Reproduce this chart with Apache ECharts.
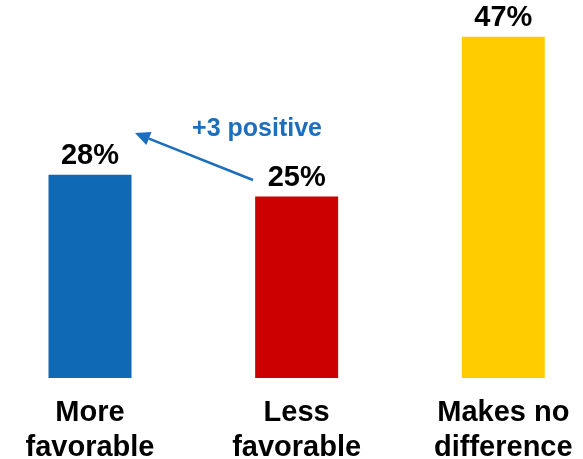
<!DOCTYPE html>
<html>
<head>
<meta charset="utf-8">
<script src="https://cdn.jsdelivr.net/npm/echarts@6/dist/echarts.min.js"></script>
<style>
  html, body { margin: 0; padding: 0; background: #fff; }
  #chart { width: 583px; height: 459px; }
</style>
</head>
<body>
<div id="chart"></div>
<script>
// chart data
const categories = ['More\nfavorable', 'Less\nfavorable', 'Makes no\ndifference'];
const shares = [28, 25, 47];
const barColors = ['#0f69b4', '#cc0000', '#ffcc00'];
const noteText = '+3 positive';

const FONT = 'Liberation Sans, Arial, sans-serif';

const myChart = echarts.init(document.getElementById('chart'));

// arrow from the 25% label to the 28% label
function arrowGraphic(x1, y1, x2, y2, color) {
  const ang = Math.atan2(y2 - y1, x2 - x1);
  const len = 15, half = 7;
  const bx = x2 - len * Math.cos(ang), by = y2 - len * Math.sin(ang);
  const nx = -Math.sin(ang), ny = Math.cos(ang);
  return [
    {
      type: 'line',
      shape: { x1: x1, y1: y1, x2: bx, y2: by },
      style: { stroke: color, lineWidth: 2.5 }
    },
    {
      type: 'polygon',
      shape: { points: [[x2, y2], [bx + nx * half, by + ny * half], [bx - nx * half, by - ny * half]] },
      style: { fill: color }
    }
  ];
}

const option = {
  animation: false,
  grid: {
    left: 90, right: 79.7, top: 14.9, bottom: 81,
    containLabel: false,
    outerBoundsMode: 'none'
  },
  xAxis: {
    type: 'category',
    data: categories,
    boundaryGap: false,
    axisLine: { show: false },
    axisTick: { show: false },
    axisLabel: {
      interval: 0,
      margin: 18,
      color: '#000',
      fontFamily: FONT,
      fontWeight: 'bold',
      fontSize: 29,
      lineHeight: 34.5
    }
  },
  yAxis: {
    type: 'value',
    min: 0,
    max: 50,
    show: false,
    splitLine: { show: false }
  },
  series: [
    {
      type: 'bar',
      barWidth: 83,
      data: shares.map((v, i) => ({ value: v, itemStyle: { color: barColors[i] } })),
      label: {
        show: true,
        position: 'top',
        distance: 4,
        formatter: '{c}%',
        color: '#000',
        fontFamily: FONT,
        fontWeight: 'bold',
        fontSize: 29
      }
    }
  ],
  graphic: [
    ...arrowGraphic(253, 180, 135, 133, '#1c6ebf'),
    {
      type: 'text',
      x: 257,
      y: 129,
      style: {
        text: noteText,
        fill: '#1c6ebf',
        font: 'bold 25px ' + FONT,
        textAlign: 'center',
        textVerticalAlign: 'middle'
      }
    }
  ]
};

myChart.setOption(option);
</script>
</body>
</html>
